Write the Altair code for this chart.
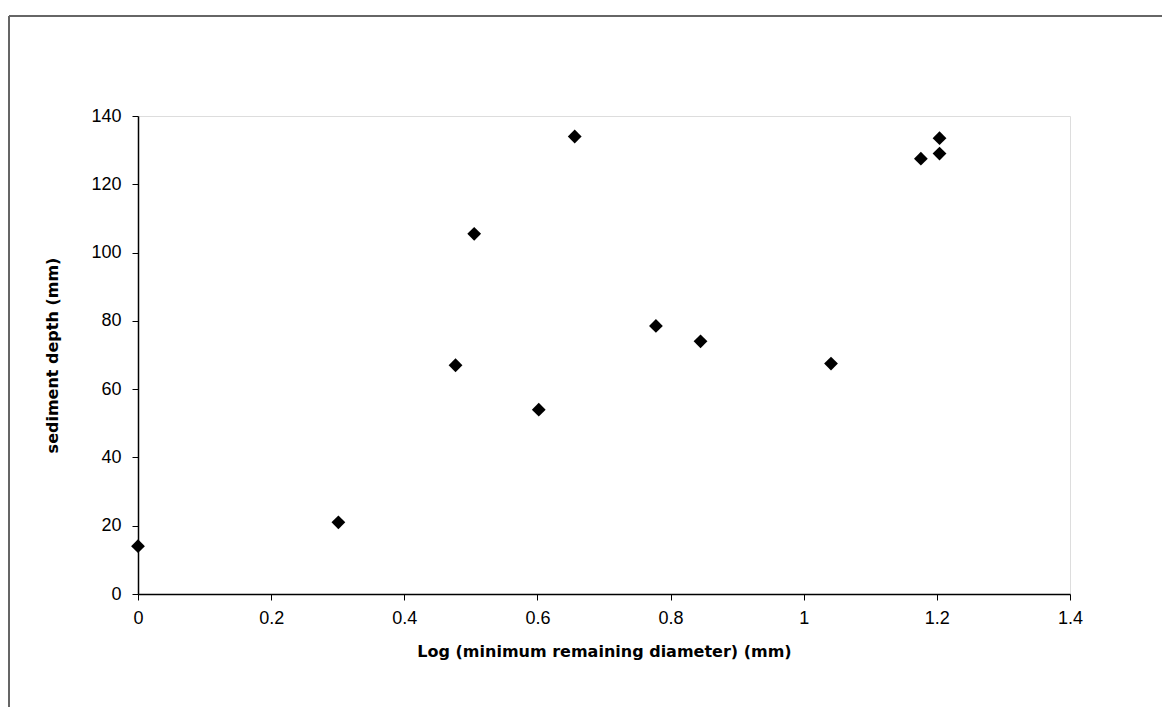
import altair as alt
import pandas as pd

log_diameter = [0.0, 0.301, 0.477, 0.505, 0.602, 0.656, 0.778, 0.845, 1.041, 1.176, 1.204, 1.204]
sediment_depth = [14, 21, 67, 105.5, 54, 134, 78.5, 74, 67.5, 127.5, 129, 133.5]

df = pd.DataFrame({"x": log_diameter, "y": sediment_depth})

font = "Liberation Sans"
title_font = "DejaVu Sans"

points = alt.Chart(df).mark_point(
    shape="diamond", filled=True, color="#000000", size=190, opacity=1
).encode(
    x=alt.X("x:Q",
            scale=alt.Scale(domain=[0, 1.4], nice=False, zero=False),
            axis=alt.Axis(values=[0, 0.2, 0.4, 0.6, 0.8, 1, 1.2, 1.4],
                          format="~g", grid=False, labelFlush=False,
                          title="Log (minimum remaining diameter) (mm)",
                          titleFont=title_font, titleFontSize=16, titleFontWeight="bold",
                          titleColor="#000", titlePadding=16,
                          labelFont=font, labelFontSize=18, labelColor="#000",
                          labelPadding=9,
                          domainColor="#000", domainWidth=1.5,
                          tickColor="#000", tickSize=6, tickWidth=1)),
    y=alt.Y("y:Q",
            scale=alt.Scale(domain=[0, 140], nice=False),
            axis=alt.Axis(values=[0, 20, 40, 60, 80, 100, 120, 140],
                          grid=False, labelFlush=False,
                          title="sediment depth (mm)",
                          titleFont=title_font, titleFontSize=16, titleFontWeight="bold",
                          titleColor="#000", titlePadding=30,
                          labelFont=font, labelFontSize=18, labelColor="#000",
                          labelPadding=11,
                          domainColor="#000", domainWidth=1.5,
                          tickColor="#000", tickSize=6, tickWidth=1)),
)

frame_top = alt.Chart(df).mark_rule(color="#666666", strokeWidth=1.2).encode(
    x=alt.value(-129), x2=alt.value(1060), y=alt.value(-100)
)
frame_left = alt.Chart(df).mark_rule(color="#666666", strokeWidth=1.2).encode(
    x=alt.value(-129), y=alt.value(-100), y2=alt.value(640)
)

chart = alt.layer(frame_top, frame_left, points).properties(
    width=932, height=478,
    padding={"left": 130, "top": 108, "right": 92, "bottom": 113},
    autosize=alt.AutoSizeParams(type="none"),
).configure_view(
    stroke="#000000", strokeWidth=1.5
).configure(background="#ffffff")

chart.save("out.html", embed_options={"renderer": "svg", "actions": False})
